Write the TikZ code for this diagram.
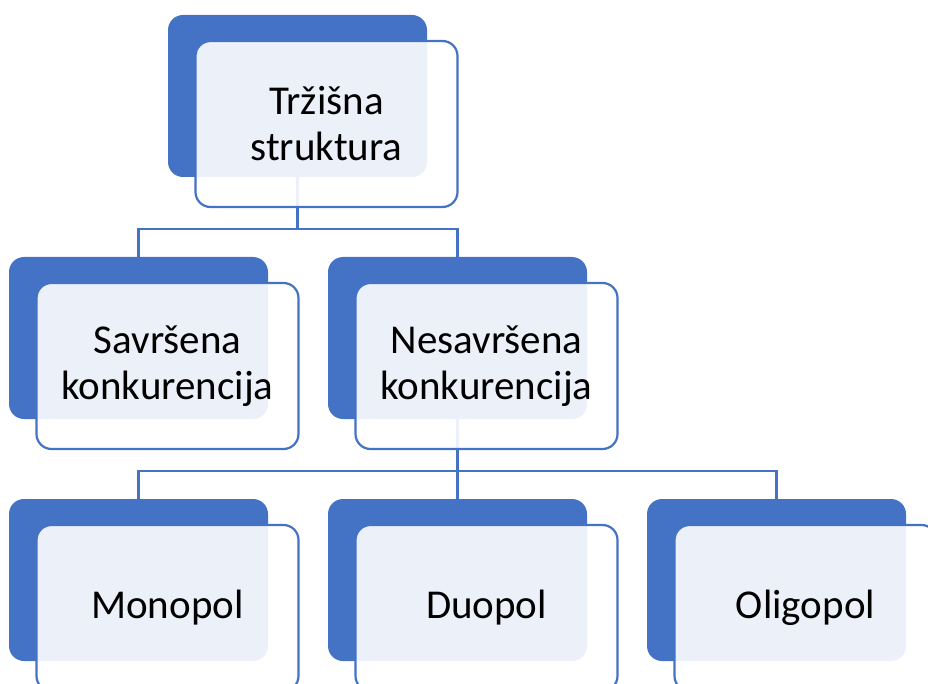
\documentclass[tikz,border=0pt]{standalone}
\usepackage{fontspec}
\setmainfont{Carlito}
\usetikzlibrary{calc, positioning}
\definecolor{accent}{HTML}{4472C4}

\begin{document}
\begin{tikzpicture}[
  x=1pt, y=-1pt,
  backbox/.style={rectangle, rounded corners=15pt, fill=accent, minimum width=259pt, minimum height=162pt, inner sep=0pt},
  frontbox/.style={rectangle, rounded corners=15pt, draw=accent, line width=2.2pt, fill=white, fill opacity=0.9, text opacity=1, minimum width=262pt, minimum height=166pt, inner sep=0pt, align=center, font=\fontsize{41}{46}\selectfont},
  link/.style={line width=2.2pt, accent}
]
\useasboundingbox (0,0) rectangle (928,684);
\clip (0,0) rectangle (928,684);

% Back boxes (blue)
\node[backbox] (trzB) at (297.5,96) {};
\node[backbox] (savB) at (138.5,338) {};
\node[backbox] (nesB) at (457.5,338) {};
\node[backbox] (monB) at (138.5,580) {};
\node[backbox] (duoB) at (457.5,580) {};
\node[backbox] (oliB) at (776.5,580) {};

% Junctions of the tree
\coordinate (j1) at (297.5,229);
\coordinate (j2) at (457.5,471);

% Tree links
\draw[link] (trzB.south) -- (j1) -| (savB.north);
\draw[link] (j1) -| (nesB.north);
\draw[link] (nesB.south) -- (j2) -| (monB.north);
\draw[link] (j2) -- (duoB.north);
\draw[link] (j2) -| (oliB.north);

% Front boxes with the texts
\node[frontbox] (trz) at ($(trzB)+(29,28)$) {Tržišna\\struktura};
\node[frontbox] (sav) at ($(savB)+(29,28)$) {Savršena\\konkurencija};
\node[frontbox] (nes) at ($(nesB)+(29,28)$) {Nesavršena\\konkurencija};
\node[frontbox] (mon) at ($(monB)+(29,28)$) {Monopol};
\node[frontbox] (duo) at ($(duoB)+(29,28)$) {Duopol};
\node[frontbox] (oli) at ($(oliB)+(29,28)$) {Oligopol};

\end{tikzpicture}
\end{document}
